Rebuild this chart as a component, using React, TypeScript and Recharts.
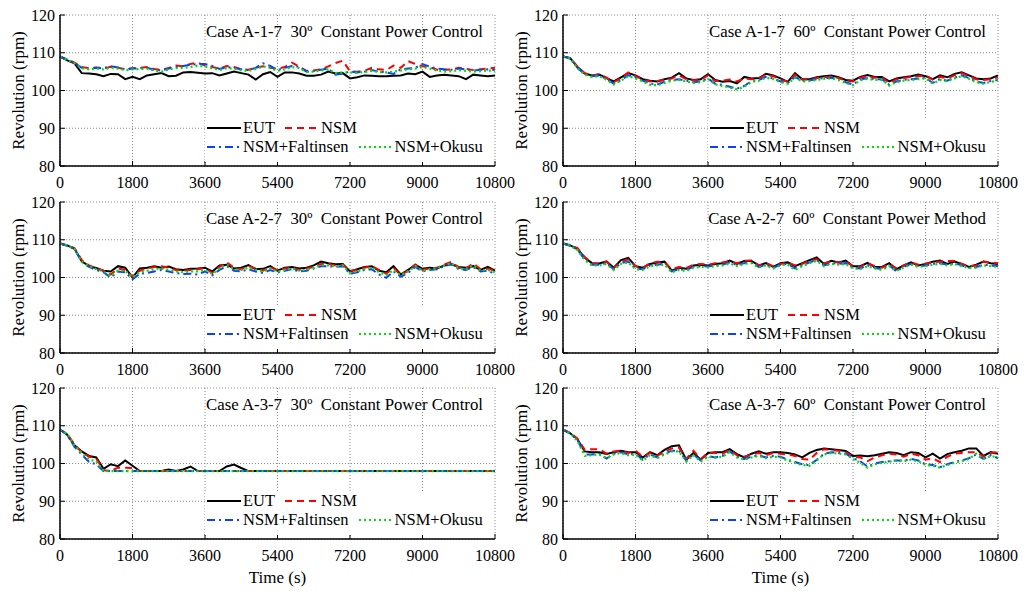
import React from 'react';
import { LineChart, Line, XAxis, YAxis, CartesianGrid, Legend } from 'recharts';

const FONT = "'Liberation Serif', 'DejaVu Serif', 'Times New Roman', Times, serif";

// sampling times (s)
const TIME = [
  0, 180, 360, 540, 720, 900, 1080, 1260, 1440, 1620, 1800, 1980, 2160, 2340, 2520, 2700, 2880, 3060, 3240, 3420,
  3600, 3780, 3960, 4140, 4320, 4500, 4680, 4860, 5040, 5220, 5400, 5580, 5760, 5940, 6120, 6300, 6480, 6660, 6840,
  7020, 7200, 7380, 7560, 7740, 7920, 8100, 8280, 8460, 8640, 8820, 9000, 9180, 9360, 9540, 9720, 9900, 10080, 10260,
  10440, 10620, 10800,
];
const X_TICKS = [0, 1800, 3600, 5400, 7200, 9000, 10800];
const Y_TICKS = [80, 90, 100, 110, 120];

// Case A-1-7 30deg
const a1_30_eut = [109, 108, 107.2, 104.6, 104.5, 104.3, 103.8, 104.4, 104.3, 103.0, 103.6, 103.0, 104.0, 104.3, 104.6, 103.8, 103.9, 104.8, 104.9, 104.7, 104.5, 104.6, 104.0, 104.5, 105.0, 104.6, 104.2, 102.9, 104.3, 104.9, 103.6, 104.8, 104.8, 104.5, 103.9, 103.9, 104.2, 105.0, 104.5, 104.6, 103.2, 103.5, 104.0, 103.9, 103.8, 103.8, 103.9, 104.0, 104.5, 104.3, 105.0, 103.6, 104.0, 104.2, 104.0, 103.8, 103.0, 104.2, 104.0, 103.8, 104.0];
const a1_30_nsm = [109, 108.2, 107.4, 106.2, 105.9, 106.1, 105.8, 106.3, 106.0, 105.6, 105.9, 106.0, 106.2, 105.7, 105.4, 106.0, 106.6, 106.4, 107.0, 107.4, 106.6, 106.2, 105.8, 106.5, 106.2, 105.6, 105.5, 106.0, 106.4, 106.0, 105.8, 106.2, 107.4, 106.3, 105.2, 105.3, 105.6, 106.4, 107.3, 107.9, 105.1, 105.0, 105.2, 106.0, 105.6, 105.4, 106.6, 106.0, 107.8, 107.0, 106.4, 106.2, 105.5, 105.5, 105.6, 106.0, 105.7, 105.4, 105.6, 105.8, 106.0];
const a1_30_falt = [109, 108.2, 107.3, 106.0, 105.8, 106.0, 105.9, 106.4, 106.1, 105.6, 105.8, 105.9, 106.0, 105.5, 105.3, 105.8, 106.2, 106.5, 106.8, 107.0, 107.0, 106.5, 105.7, 106.2, 106.0, 105.6, 105.4, 106.0, 107.2, 106.5, 105.4, 106.0, 106.5, 106.3, 105.0, 105.2, 105.5, 105.8, 104.2, 104.5, 105.0, 104.8, 105.0, 105.4, 105.0, 104.8, 104.4, 105.6, 105.8, 106.0, 107.0, 106.3, 105.8, 105.6, 105.5, 105.8, 105.6, 105.3, 105.5, 105.6, 105.4];
const a1_30_okusu = [109, 108.1, 107.2, 105.9, 105.6, 105.8, 105.6, 106.0, 105.8, 105.4, 105.6, 105.7, 105.8, 105.3, 105.0, 105.6, 105.9, 106.0, 106.2, 106.6, 106.3, 105.9, 105.4, 105.9, 105.8, 105.3, 105.2, 105.7, 106.4, 106.0, 105.2, 105.6, 106.2, 105.9, 104.9, 105.0, 105.3, 105.6, 104.6, 104.8, 104.8, 104.7, 104.9, 105.2, 104.9, 104.8, 105.0, 105.3, 105.6, 105.8, 106.2, 105.8, 105.3, 105.0, 105.1, 105.4, 105.2, 105.0, 105.1, 105.3, 105.2];

// Case A-1-7 60deg
const a1_60_eut = [109, 108.6, 106.2, 104.5, 104.0, 104.2, 103.3, 102.4, 103.5, 104.6, 104.0, 103.0, 102.6, 102.4, 103.0, 103.4, 104.6, 103.2, 102.8, 103.0, 104.3, 102.8, 102.3, 102.5, 101.9, 103.6, 103.2, 103.3, 104.4, 104.0, 103.2, 102.3, 104.6, 103.0, 103.0, 103.5, 103.8, 104.0, 103.5, 102.8, 102.6, 103.6, 104.1, 103.6, 103.6, 102.4, 103.2, 103.5, 103.8, 104.2, 103.8, 103.0, 104.0, 103.5, 104.4, 104.8, 104.0, 103.2, 103.0, 103.2, 104.0];
const a1_60_nsm = [109, 108.6, 106.3, 104.6, 104.0, 104.3, 103.4, 102.2, 103.3, 104.8, 103.8, 102.9, 102.4, 102.5, 102.8, 103.2, 104.0, 103.0, 102.7, 102.8, 104.0, 102.5, 102.6, 102.9, 102.4, 103.2, 103.0, 103.2, 104.2, 103.8, 102.8, 102.4, 104.2, 102.9, 103.0, 103.3, 103.5, 103.7, 103.3, 102.6, 102.4, 103.4, 103.8, 103.4, 103.5, 102.0, 103.0, 103.3, 103.6, 103.8, 104.0, 102.9, 103.6, 103.2, 104.0, 104.6, 103.8, 103.0, 102.8, 103.0, 103.5];
const a1_60_falt = [109, 108.5, 106.0, 104.3, 103.8, 104.0, 103.0, 101.8, 102.8, 104.0, 103.5, 102.6, 101.8, 101.6, 102.3, 102.8, 103.0, 102.6, 102.2, 102.4, 103.2, 101.8, 101.5, 101.0, 100.5, 101.2, 102.5, 102.8, 103.6, 103.2, 102.4, 102.0, 103.6, 102.6, 102.7, 103.0, 103.3, 103.4, 103.0, 102.2, 101.6, 102.9, 103.3, 103.0, 103.0, 101.5, 102.4, 102.8, 103.0, 103.2, 103.4, 102.0, 103.0, 102.6, 103.4, 104.0, 103.3, 102.4, 102.0, 102.5, 102.8];
const a1_60_okusu = [109, 108.4, 105.9, 104.2, 103.6, 103.8, 102.8, 101.6, 102.6, 103.8, 103.2, 102.4, 101.5, 101.4, 102.0, 102.6, 102.8, 102.4, 102.0, 102.2, 103.0, 101.6, 101.2, 100.8, 100.3, 101.0, 102.3, 102.6, 103.4, 103.0, 102.2, 101.8, 103.4, 102.4, 102.5, 102.8, 103.1, 103.2, 102.8, 102.0, 101.4, 102.7, 103.1, 102.8, 102.8, 101.3, 102.2, 102.6, 102.8, 103.0, 103.2, 101.8, 102.8, 102.4, 103.2, 103.8, 103.1, 102.2, 101.8, 102.3, 102.6];

// Case A-2-7 30deg
const a2_30_eut = [109, 108.5, 107.6, 104.3, 103.0, 102.5, 101.8, 101.6, 103.0, 102.6, 100.0, 102.4, 102.6, 103.0, 102.6, 102.9, 102.2, 102.0, 102.3, 102.4, 102.6, 101.6, 103.2, 103.4, 102.4, 102.6, 103.3, 102.2, 102.3, 103.0, 101.8, 102.6, 102.8, 102.4, 102.6, 103.2, 104.2, 103.8, 103.5, 103.6, 101.6, 102.2, 102.8, 103.0, 101.8, 101.4, 103.0, 100.8, 102.0, 103.4, 102.3, 102.6, 102.4, 103.2, 103.5, 102.8, 102.6, 103.0, 102.0, 102.8, 101.8];
const a2_30_nsm = [109, 108.5, 107.8, 104.6, 103.2, 102.4, 101.8, 100.8, 102.4, 102.0, 100.2, 101.8, 102.4, 102.8, 103.0, 102.6, 102.0, 101.8, 102.0, 102.2, 102.5, 101.2, 102.8, 104.0, 102.6, 102.2, 103.0, 102.4, 101.8, 102.8, 101.8, 102.4, 102.6, 102.0, 102.4, 102.8, 103.6, 103.6, 103.2, 103.4, 101.8, 102.0, 102.6, 103.0, 102.0, 101.0, 102.6, 100.6, 101.8, 103.4, 102.0, 102.4, 102.6, 103.4, 104.2, 102.6, 102.4, 103.8, 102.2, 102.4, 101.8];
const a2_30_falt = [109, 108.4, 107.6, 104.2, 102.8, 102.0, 101.4, 100.0, 101.6, 101.4, 99.5, 101.0, 101.2, 101.6, 102.0, 101.6, 101.2, 100.9, 101.0, 100.8, 101.6, 100.6, 102.0, 103.0, 101.8, 101.6, 102.2, 101.6, 101.2, 102.0, 101.3, 101.8, 102.2, 101.6, 101.8, 102.4, 103.0, 103.0, 102.8, 103.0, 101.0, 101.4, 102.0, 102.2, 100.8, 99.9, 101.6, 100.2, 101.2, 102.8, 101.6, 102.0, 102.2, 103.0, 103.6, 102.2, 102.0, 102.8, 101.6, 101.8, 101.0];
const a2_30_okusu = [109, 108.5, 107.6, 104.2, 103.0, 102.2, 101.6, 100.4, 101.8, 101.8, 100.0, 101.4, 101.8, 102.2, 102.4, 102.0, 101.6, 101.4, 101.6, 101.6, 102.0, 100.9, 102.4, 103.4, 102.2, 102.0, 102.6, 102.0, 101.6, 102.4, 101.5, 102.0, 102.4, 101.8, 102.0, 102.6, 103.2, 103.2, 103.0, 103.2, 101.2, 101.6, 102.2, 102.6, 101.4, 100.6, 102.0, 100.6, 101.6, 103.0, 101.8, 102.2, 102.4, 103.2, 103.8, 102.4, 102.2, 103.2, 101.8, 102.0, 101.4];

// Case A-2-7 60deg
const a2_60_eut = [109, 108.5, 107.6, 105.2, 103.8, 103.7, 104.3, 102.6, 104.6, 105.2, 103.0, 102.6, 103.6, 104.0, 104.2, 101.8, 102.6, 102.3, 103.2, 103.4, 103.2, 103.6, 103.8, 104.5, 103.6, 104.4, 104.4, 103.2, 103.8, 102.8, 103.8, 104.0, 103.0, 103.8, 104.6, 105.3, 103.6, 104.4, 104.0, 104.5, 103.0, 103.0, 103.9, 102.8, 102.8, 103.8, 102.2, 103.2, 104.0, 103.2, 103.6, 104.2, 104.5, 103.6, 104.2, 103.6, 102.8, 103.4, 104.2, 103.8, 103.6];
const a2_60_nsm = [109, 108.6, 107.8, 105.4, 103.8, 103.6, 104.2, 102.5, 104.2, 104.8, 103.0, 102.5, 103.8, 104.2, 104.0, 102.2, 102.8, 102.5, 103.4, 103.6, 103.4, 103.8, 104.0, 104.3, 103.8, 104.4, 104.5, 103.2, 103.8, 103.0, 103.6, 104.0, 103.2, 103.6, 104.4, 104.8, 103.8, 104.2, 104.0, 104.2, 103.0, 102.8, 103.8, 103.0, 102.6, 103.6, 102.4, 103.2, 104.0, 103.4, 103.6, 104.0, 104.2, 104.4, 104.4, 103.6, 103.0, 103.2, 104.2, 104.0, 103.8];
const a2_60_falt = [109, 108.4, 107.4, 104.8, 103.4, 103.4, 103.8, 102.2, 103.8, 104.2, 102.4, 102.2, 103.2, 103.4, 103.6, 101.6, 102.2, 102.0, 102.8, 103.0, 102.9, 103.2, 103.4, 104.0, 103.3, 103.8, 104.0, 102.8, 103.4, 102.6, 103.4, 103.6, 102.4, 103.2, 104.0, 104.6, 103.2, 103.8, 103.6, 103.8, 102.6, 102.4, 103.2, 102.6, 102.2, 103.2, 101.6, 102.8, 103.6, 102.9, 103.2, 103.6, 103.8, 103.4, 103.8, 103.2, 102.6, 102.8, 103.4, 103.2, 103.0];
const a2_60_okusu = [109, 108.4, 107.3, 104.6, 103.2, 103.2, 103.6, 102.0, 103.6, 104.0, 102.2, 102.0, 103.0, 103.2, 103.4, 101.4, 102.0, 101.7, 102.6, 102.8, 102.7, 103.0, 103.2, 103.7, 103.0, 103.6, 103.8, 102.6, 103.2, 102.4, 103.2, 103.4, 102.0, 103.0, 103.8, 104.4, 103.0, 103.6, 103.4, 103.6, 102.4, 102.2, 103.0, 102.4, 102.0, 103.0, 101.8, 102.6, 103.4, 102.8, 103.0, 103.4, 103.6, 103.2, 103.6, 103.0, 102.5, 102.6, 103.2, 103.0, 102.8];

// Case A-3-7 30deg
const a3_30_eut = [109, 107.6, 104.8, 103.2, 102.0, 101.6, 98.6, 99.8, 99.3, 100.8, 99.4, 98.0, 98.0, 98.0, 98.0, 98.4, 98.0, 98.4, 99.2, 98.0, 98.0, 98.0, 98.0, 99.2, 99.7, 98.8, 98.0, 98.0, 98.0, 98.0, 98.0, 98.0, 98.0, 98.0, 98.0, 98.0, 98.0, 98.0, 98.0, 98.0, 98.0, 98.0, 98.0, 98.0, 98.0, 98.0, 98.0, 98.0, 98.0, 98.0, 98.0, 98.0, 98.0, 98.0, 98.0, 98.0, 98.0, 98.0, 98.0, 98.0, 98.0];
const a3_30_nsm = [109, 107.8, 105.0, 103.0, 101.8, 101.3, 98.2, 98.0, 98.9, 98.9, 98.8, 98.0, 98.0, 98.0, 98.0, 98.0, 98.0, 98.0, 98.0, 98.0, 98.0, 98.0, 98.0, 98.0, 98.0, 98.0, 98.0, 98.0, 98.0, 98.0, 98.0, 98.0, 98.0, 98.0, 98.0, 98.0, 98.0, 98.0, 98.0, 98.0, 98.0, 98.0, 98.0, 98.0, 98.0, 98.0, 98.0, 98.0, 98.0, 98.0, 98.0, 98.0, 98.0, 98.0, 98.0, 98.0, 98.0, 98.0, 98.0, 98.0, 98.0];
const a3_30_falt = [109, 107.6, 104.4, 102.4, 100.4, 99.8, 98.0, 98.0, 98.0, 98.0, 98.0, 98.0, 98.0, 98.0, 98.0, 98.0, 98.0, 98.0, 98.0, 98.0, 98.0, 98.0, 98.0, 98.0, 98.0, 98.0, 98.0, 98.0, 98.0, 98.0, 98.0, 98.0, 98.0, 98.0, 98.0, 98.0, 98.0, 98.0, 98.0, 98.0, 98.0, 98.0, 98.0, 98.0, 98.0, 98.0, 98.0, 98.0, 98.0, 98.0, 98.0, 98.0, 98.0, 98.0, 98.0, 98.0, 98.0, 98.0, 98.0, 98.0, 98.0];
const a3_30_okusu = [109, 107.8, 104.8, 102.8, 101.0, 100.6, 98.0, 98.0, 98.0, 98.0, 98.0, 98.0, 98.0, 98.0, 98.0, 98.0, 98.0, 98.0, 98.0, 98.0, 98.0, 98.0, 98.0, 98.0, 98.0, 98.0, 98.0, 98.0, 98.0, 98.0, 98.0, 98.0, 98.0, 98.0, 98.0, 98.0, 98.0, 98.0, 98.0, 98.0, 98.0, 98.0, 98.0, 98.0, 98.0, 98.0, 98.0, 98.0, 98.0, 98.0, 98.0, 98.0, 98.0, 98.0, 98.0, 98.0, 98.0, 98.0, 98.0, 98.0, 98.0];

// Case A-3-7 60deg
const a3_60_eut = [109, 108.0, 106.4, 103.2, 103.0, 103.0, 102.5, 103.0, 103.4, 103.0, 103.0, 101.6, 103.0, 102.2, 103.6, 104.6, 104.8, 101.0, 102.8, 101.0, 102.8, 103.0, 103.0, 103.8, 102.5, 101.6, 102.6, 103.2, 102.6, 103.0, 103.0, 102.8, 102.4, 101.6, 102.8, 103.6, 104.0, 103.8, 103.6, 103.3, 102.0, 102.1, 101.9, 102.2, 102.6, 103.0, 102.8, 102.2, 103.0, 102.8, 101.6, 102.6, 101.3, 102.5, 103.0, 103.4, 104.0, 104.0, 102.0, 103.0, 102.6];
const a3_60_nsm = [109, 108.1, 106.6, 103.6, 103.8, 103.8, 102.6, 103.2, 103.4, 102.8, 103.4, 101.8, 102.8, 102.0, 103.2, 104.0, 104.2, 101.2, 103.4, 101.2, 102.8, 102.8, 102.6, 103.6, 102.2, 101.8, 102.4, 102.8, 102.2, 102.8, 102.6, 102.4, 102.0, 101.2, 101.0, 102.8, 103.8, 103.6, 103.4, 103.0, 101.8, 101.6, 100.6, 101.6, 102.2, 102.6, 102.4, 101.8, 102.6, 102.2, 101.0, 101.4, 100.4, 101.8, 102.6, 102.8, 103.0, 103.0, 101.8, 102.8, 103.0];
const a3_60_falt = [109, 107.9, 106.2, 102.4, 102.4, 102.6, 101.3, 102.6, 103.0, 102.4, 102.6, 101.0, 102.4, 101.6, 102.6, 103.4, 103.4, 100.8, 102.4, 100.8, 102.0, 101.6, 102.0, 103.2, 101.8, 101.2, 101.8, 102.2, 101.6, 102.0, 101.8, 101.0, 100.4, 99.8, 99.6, 101.0, 102.6, 103.0, 102.8, 102.6, 101.4, 100.6, 99.2, 100.0, 100.4, 100.6, 100.8, 100.8, 101.2, 100.8, 99.8, 99.6, 99.0, 99.8, 100.4, 100.8, 101.4, 102.4, 101.2, 102.2, 101.4];
const a3_60_okusu = [109, 107.9, 106.0, 102.0, 102.2, 102.4, 101.4, 102.4, 102.8, 102.2, 102.4, 100.8, 102.2, 101.4, 102.4, 103.2, 103.2, 100.5, 102.2, 100.5, 101.8, 101.6, 101.8, 103.0, 101.6, 101.0, 101.6, 102.0, 101.4, 101.8, 101.6, 100.8, 100.2, 99.6, 99.4, 100.8, 102.4, 102.8, 102.6, 102.4, 101.2, 100.2, 98.9, 99.8, 100.2, 100.5, 100.8, 100.6, 101.0, 100.6, 99.6, 99.4, 98.9, 99.6, 100.2, 100.6, 101.2, 102.6, 101.2, 102.0, 101.6];

const SERIES = [
  { key: 'eut', name: 'EUT', color: '#000000', dash: undefined as string | undefined, width: 2 },
  { key: 'nsm', name: 'NSM', color: '#ff0000', dash: '7 5', width: 2 },
  { key: 'falt', name: 'NSM+Faltinsen', color: '#1040ff', dash: '8 4 2 4', width: 2 },
  { key: 'okusu', name: 'NSM+Okusu', color: '#00e000', dash: '2 3', width: 2.2 },
];

const PANELS = [
  { title: 'Case A-1-7  30º  Constant Power Control', series: [a1_30_eut, a1_30_nsm, a1_30_falt, a1_30_okusu], left: 0, top: 5, bottom: false },
  { title: 'Case A-1-7  60º  Constant Power Control', series: [a1_60_eut, a1_60_nsm, a1_60_falt, a1_60_okusu], left: 503, top: 5, bottom: false },
  { title: 'Case A-2-7  30º  Constant Power Control', series: [a2_30_eut, a2_30_nsm, a2_30_falt, a2_30_okusu], left: 0, top: 192, bottom: false },
  { title: 'Case A-2-7  60º  Constant Power Method', series: [a2_60_eut, a2_60_nsm, a2_60_falt, a2_60_okusu], left: 503, top: 192, bottom: false },
  { title: 'Case A-3-7  30º  Constant Power Control', series: [a3_30_eut, a3_30_nsm, a3_30_falt, a3_30_okusu], left: 0, top: 378, bottom: true },
  { title: 'Case A-3-7  60º  Constant Power Control', series: [a3_60_eut, a3_60_nsm, a3_60_falt, a3_60_okusu], left: 503, top: 378, bottom: true },
];

const YLabel = ({ viewBox }: any) => {
  const x = viewBox.x + 18;
  const y = viewBox.y + viewBox.height / 2;
  return (
    <text x={x} y={y} transform={`rotate(-90, ${x}, ${y})`} textAnchor="middle" dominantBaseline="central"
      style={{ fontFamily: FONT, fontSize: 17, fill: '#000' }}>
      Revolution (rpm)
    </text>
  );
};

const XLabel = ({ viewBox }: any) => (
  <text x={viewBox.x + viewBox.width / 2} y={viewBox.y + 38} textAnchor="middle" dominantBaseline="central"
    style={{ fontFamily: FONT, fontSize: 17, fill: '#000' }}>
    Time (s)
  </text>
);

const LegendBox = ({ payload }: any) => {
  const items = (payload || []).map((p: any) => SERIES.find((s) => s.name === p.value)).filter(Boolean);
  const rows = [items.slice(0, 2), items.slice(2, 4)];
  return (
    <div style={{ background: '#fff', width: 288, height: 44, fontFamily: FONT, fontSize: 16.5, color: '#000', paddingLeft: 2, boxSizing: 'border-box' }}>
      {rows.map((row: any[], r: number) => (
        <div key={r} style={{ display: 'flex', alignItems: 'center', height: 19, marginTop: r === 0 ? 1 : 0 }}>
          {row.map((s: any) => (
            <div key={s.key} style={{ display: 'flex', alignItems: 'center', marginRight: 10 }}>
              <svg width={34} height={8} style={{ marginRight: 2 }}>
                <line x1={0} y1={4} x2={34} y2={4} stroke={s.color} strokeWidth={s.width} strokeDasharray={s.dash} />
              </svg>
              <span>{s.name}</span>
            </div>
          ))}
        </div>
      ))}
    </div>
  );
};

const Panel = ({ title, series, left, top, bottom }: any) => {
  const data = TIME.map((t, i) => ({
    t,
    eut: series[0][i],
    nsm: series[1][i],
    falt: series[2][i],
    okusu: series[3][i],
  }));
  const axisH = bottom ? 50 : 26;
  const tickStyle = { fontSize: 16, fill: '#000', fontFamily: FONT };
  return (
    <div style={{ position: 'absolute', left, top, width: 522, height: 10 + 151 + axisH }}>
      <LineChart width={522} height={10 + 151 + axisH} data={data} margin={{ top: 10, right: 27, left: 0, bottom: 0 }}
        style={{ fontFamily: FONT }}>
        <CartesianGrid stroke="#8a8a8a" strokeDasharray="1 2" horizontalValues={Y_TICKS} verticalValues={X_TICKS} />
        <XAxis dataKey="t" type="number" domain={[0, 10800]} ticks={X_TICKS} interval={0} height={axisH}
          tickSize={-5} tickMargin={16} tick={tickStyle} axisLine={{ stroke: '#000', strokeWidth: 1.5 }}
          tickLine={{ stroke: '#000' }} label={bottom ? <XLabel /> : undefined} />
        <XAxis xAxisId="top" orientation="top" type="number" domain={[0, 10800]} ticks={X_TICKS} interval={0} height={0}
          tickSize={-5} tickFormatter={() => ''} axisLine={{ stroke: '#000', strokeWidth: 1.5 }}
          tickLine={{ stroke: '#000' }} />
        <YAxis type="number" domain={[80, 120]} ticks={Y_TICKS} interval={0} width={60}
          tickSize={-5} tickMargin={10} tick={tickStyle} axisLine={{ stroke: '#000', strokeWidth: 1.5 }}
          tickLine={{ stroke: '#000' }} label={<YLabel />} />
        <YAxis yAxisId="right" orientation="right" type="number" domain={[80, 120]} ticks={Y_TICKS} interval={0} width={0}
          tickSize={-5} tickFormatter={() => ''} axisLine={{ stroke: '#000', strokeWidth: 1.5 }}
          tickLine={{ stroke: '#000' }} />
        <Legend layout="horizontal" verticalAlign="middle" align="center" content={<LegendBox />}
          wrapperStyle={{ left: 205, top: 112, width: 288, height: 44 }} />
        {SERIES.map((s) => (
          <Line key={s.key} dataKey={s.key} name={s.name} type="linear" stroke={s.color} strokeWidth={s.width}
            strokeDasharray={s.dash} dot={false} activeDot={false} isAnimationActive={false} />
        ))}
      </LineChart>
      <div style={{ position: 'absolute', right: 27 + 12, top: 10 + 7, fontFamily: FONT, fontSize: 16.8, lineHeight: '20px',
        whiteSpace: 'pre', color: '#000' }}>
        {title}
      </div>
    </div>
  );
};

export default function App() {
  return (
    <div style={{ position: 'absolute', left: 0, top: 0, width: 1027, height: 592, background: '#fff' }}>
      {PANELS.map((p, i) => (
        <Panel key={i} {...p} />
      ))}
    </div>
  );
}
